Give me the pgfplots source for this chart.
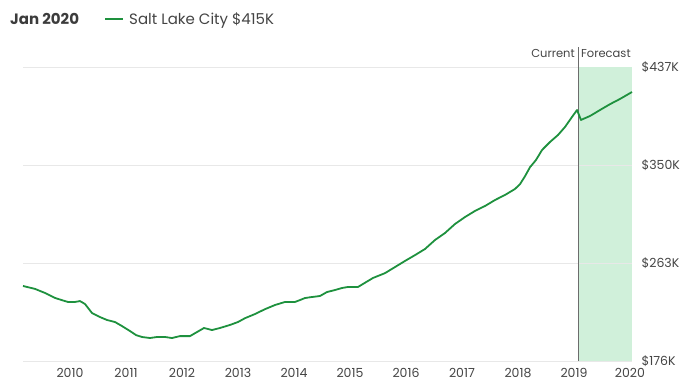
\documentclass[border=0pt]{standalone}
\usepackage{pgfplots}
\pgfplotsset{compat=1.18}
\usepackage{fontspec}
\setmainfont{Poppins}
\definecolor{linegreen}{RGB}{30,145,62}
\definecolor{fcfill}{RGB}{208,240,218}
\definecolor{gridc}{RGB}{232,232,232}
\definecolor{txt}{RGB}{68,68,68}
\definecolor{ttl}{RGB}{60,60,60}
\begin{document}
\begin{tikzpicture}
\path[use as bounding box] (0pt,0pt) rectangle (696pt,390pt);
\begin{axis}[
  at={(23pt,29pt)}, anchor=south west,
  scale only axis, width=609pt, height=294pt,
  xmin=2009.161, xmax=2020.036, ymin=176, ymax=437,
  axis line style={draw=none},
  xtick={2010,2011,2012,2013,2014,2015,2016,2017,2018,2019,2020},
  xticklabels={2010,2011,2012,2013,2014,2015,2016,2017,2018,2019,2020},
  ytick={176,263,350,437},
  yticklabels={\$176K,\$263K,\$350K,\$437K},
  yticklabel pos=right,
  xticklabel pos=bottom,
  tick style={draw=none},
  /pgf/number format/assume math mode=true,
  ticklabel style={font=\fontsize{12.5}{14}\selectfont, text=txt},
  xticklabel style={yshift=-4pt},
  yticklabel style={anchor=west, xshift=6pt},
  clip=false,
]
\addplot[draw=none, fill=fcfill] coordinates {(2019.071,176) (2019.071,437) (2020.036,437) (2020.036,176)} -- cycle;
\addplot[gridc, line width=0.8pt] coordinates {(2009.161,176) (2020.036,176)};
\addplot[gridc, line width=0.8pt] coordinates {(2009.161,263) (2020.036,263)};
\addplot[gridc, line width=0.8pt] coordinates {(2009.161,350) (2020.036,350)};
\addplot[gridc, line width=0.8pt] coordinates {(2009.161,437) (2019.071,437)};
\addplot[gray!85!black, line width=0.8pt] coordinates {(2019.071,176) (2019.071,455)};
\node[anchor=base east, font=\fontsize{11.5}{13}\selectfont, text=txt, inner sep=3pt] at (axis cs:2019.071,445) {Current};
\node[anchor=base west, font=\fontsize{11.5}{13}\selectfont, text=txt, inner sep=3pt] at (axis cs:2019.071,445) {Forecast};
\addplot[linegreen, line width=1.8pt, line join=round] coordinates {
(2009.161,242.6) (2009.375,240.0) (2009.554,236.4) (2009.732,232.0) (2009.857,230.0)
(2009.964,228.4) (2010.089,228.4) (2010.179,229.2) (2010.268,226.6) (2010.393,218.6)
(2010.536,215.0) (2010.661,212.4) (2010.804,210.6) (2010.929,207.0) (2011.071,202.6)
(2011.179,199.0) (2011.286,197.3) (2011.429,196.4) (2011.554,197.3) (2011.696,197.3)
(2011.821,196.4) (2011.964,198.1) (2012.143,198.1) (2012.268,201.7) (2012.393,205.3)
(2012.536,203.5) (2012.679,205.3) (2012.857,208.0) (2013.000,210.6) (2013.125,214.0)
(2013.304,217.7) (2013.482,222.0) (2013.661,225.7) (2013.839,228.4) (2014.018,228.4)
(2014.107,230.1) (2014.196,231.9) (2014.321,232.8) (2014.464,233.7) (2014.589,237.2)
(2014.732,239.0) (2014.857,240.8) (2014.964,241.7) (2015.143,241.7) (2015.286,246.0)
(2015.411,249.7) (2015.625,254.0) (2015.804,259.4) (2015.982,264.8) (2016.161,270.0)
(2016.339,275.4) (2016.518,283.4) (2016.696,289.6) (2016.875,297.6) (2017.054,303.8)
(2017.232,309.2) (2017.411,313.6) (2017.589,318.9) (2017.768,323.4) (2017.946,328.7)
(2018.036,333.0) (2018.125,340.0) (2018.214,348.0) (2018.321,354.4) (2018.429,363.3)
(2018.571,370.4) (2018.714,376.6) (2018.839,383.7) (2018.964,392.6) (2019.054,398.8)
(2019.125,390.0) (2019.286,393.5) (2019.464,398.8) (2019.643,404.0) (2019.821,408.6)
(2020.036,414.8)
};
\end{axis}
\node[anchor=base west, font=\fontsize{15}{17}\selectfont\bfseries, text=ttl, inner sep=0pt] at (10pt,365pt) {Jan 2020};
\fill[linegreen] (105pt,369.5pt) rectangle (123pt,371.5pt);
\node[anchor=base west, font=\fontsize{15}{17}\selectfont, text=txt, inner sep=0pt] at (129pt,365pt) {Salt Lake City \$415K};
\end{tikzpicture}
\end{document}
